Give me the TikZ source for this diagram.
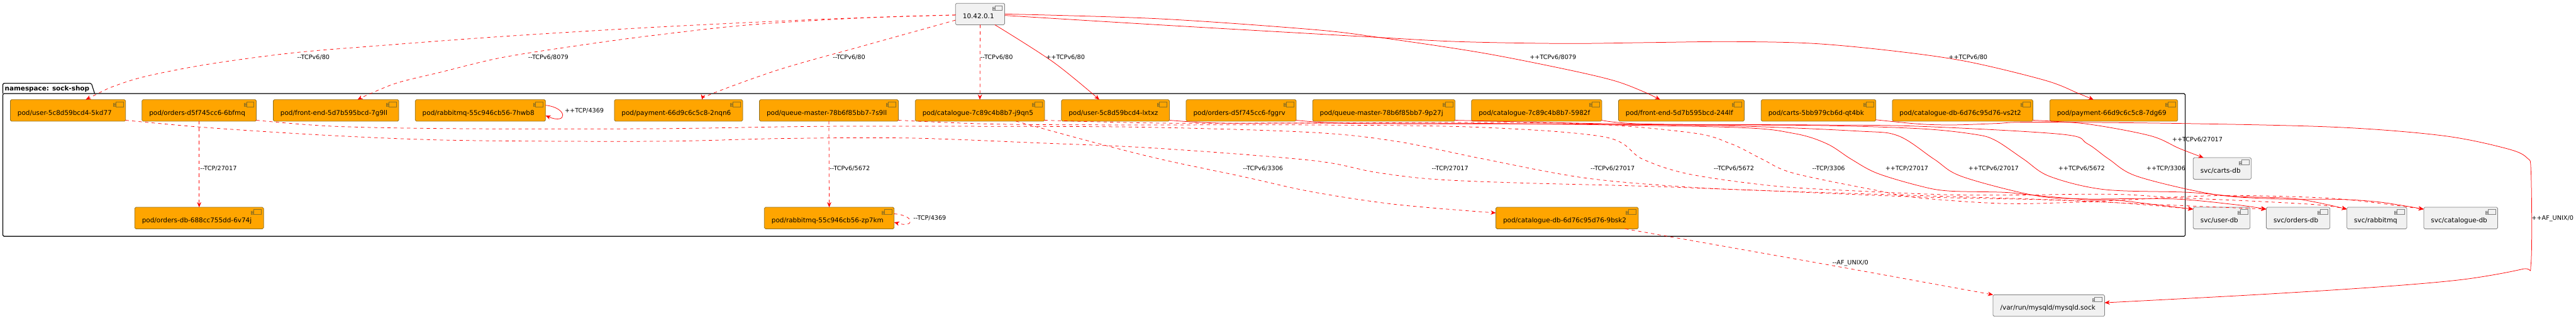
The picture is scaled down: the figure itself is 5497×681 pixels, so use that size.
\documentclass[tikz,border=0pt]{standalone}
\usepackage{fontspec}
\setmainfont{DejaVu Sans}
\usetikzlibrary{calc,arrows.meta}
\definecolor{podfill}{HTML}{FFA500}
\definecolor{podline}{HTML}{8F7020}
\definecolor{svcfill}{HTML}{F1F1F1}
\definecolor{svcline}{HTML}{808080}
\tikzset{
  boxbase/.style={draw,anchor=north west,inner sep=0pt,outer sep=0pt,rounded corners=2.5pt,line width=1pt,
    minimum height=46pt,text height=0pt,text depth=0pt,font=\fontsize{14}{16}\selectfont},
  podbox/.style={boxbase,fill=podfill,draw=podline},
  svcbox/.style={boxbase,fill=svcfill,draw=svcline},
  tipmark/.tip={Stealth[length=11pt,width=9pt,inset=3.5pt]},
  solidedge/.style={draw=red,line width=1pt,-{tipmark}},
  dashedge/.style={draw=red,line width=1pt,dash pattern=on 7pt off 7pt,-{Stealth[length=11pt,width=9pt,inset=3.5pt,sep=0pt]}},
  edgelabel/.style={anchor=base west,inner sep=0pt,font=\fontsize{13}{15}\selectfont},
  smoothed/.style={smooth,tension=0.55},
  framebox/.style={draw=black,line width=1.5pt,rounded corners=2.5pt,anchor=north west,inner sep=0pt,outer sep=0pt},
}
\newcommand{\bx}[7]{%
  \node[#1,minimum width=#5pt,minimum height=#6pt] (#2) at (#3,#4)
    {\makebox[#5pt][l]{\hspace{15.5pt}\raisebox{-9.6pt}{#7}}};
  \draw[line width=1pt,draw=#1line] ($(#2.north east)+(-21,5)$) rectangle +(16,10);
  \draw[line width=1pt,draw=#1line,fill=#1fill] ($(#2.north east)+(-26,8)$) rectangle +(5,2.5);
  \draw[line width=1pt,draw=#1line,fill=#1fill] ($(#2.north east)+(-26,12)$) rectangle +(5,2.5);
}
\colorlet{podboxline}{podline}\colorlet{podboxfill}{podfill}
\colorlet{svcboxline}{svcline}\colorlet{svcboxfill}{svcfill}
\newcommand{\lb}[4]{\node[edgelabel] (#1) at (#2,#3+4) {#4};}
\begin{document}
\begin{tikzpicture}[x=1pt,y=-1pt]
\useasboundingbox (0,0) rectangle (5497,681);
\fill[white] (0,0) rectangle (5497,681);
% namespace frame
\node[framebox,minimum width=4657pt,minimum height=305pt] (ns) at (6,200) {};
\draw[line width=1.5pt,rounded corners=2.5pt] (ns.north west) -- (6,178) -- (195,178) -- (202,200);
\node[edgelabel,font=\fontsize{14}{16}\selectfont\bfseries] (nstitle) at (10,194) {namespace: sock-shop};
% outside source
\bx{svcbox}{ip}{2039}{7}{105}{46}{10.42.0.1}
% first row of pods
\bx{podbox}{ua}{22}{213}{246}{46}{pod/user-5c8d59bcd4-5kd77}
\bx{podbox}{oa}{303}{213}{244}{46}{pod/orders-d5f745cc6-6bfmq}
\bx{podbox}{fa}{583}{213}{268}{46}{pod/front-end-5d7b595bcd-7g9ll}
\bx{podbox}{ra}{886}{213}{278}{46}{pod/rabbitmq-55c946cb56-7hwb8}
\bx{podbox}{pa}{1311}{213}{274}{46}{pod/payment-66d9c6c5c8-2nqn6}
\bx{podbox}{qa}{1620.5}{213}{296.5}{46}{pod/queue-master-78b6f85bb7-7s9ll}
\bx{podbox}{ca}{1953}{213}{276}{46}{pod/catalogue-7c89c4b8b7-j9qn5}
\bx{podbox}{ub}{2265}{213}{230.5}{46}{pod/user-5c8d59bcd4-lxtxz}
\bx{podbox}{ob}{2531}{213}{235}{46}{pod/orders-d5f745cc6-fggrv}
\bx{podbox}{qb}{2801}{213}{304}{46}{pod/queue-master-78b6f85bb7-9p27j}
\bx{podbox}{cb}{3140}{213}{278}{46}{pod/catalogue-7c89c4b8b7-5982f}
\bx{podbox}{fb}{3453.6}{213}{268.4}{46}{pod/front-end-5d7b595bcd-244lf}
\bx{podbox}{cr}{3758}{213}{245}{46}{pod/carts-5bb979cb6d-qt4bk}
\bx{podbox}{dv}{4038}{213}{300}{46}{pod/catalogue-db-6d76c95d76-vs2t2}
\bx{podbox}{pb}{4374}{213}{273}{46}{pod/payment-66d9c6c5c8-7dg69}
% second row of pods
\bx{podbox}{od}{287.5}{443}{275}{46}{pod/orders-db-688cc755dd-6v74j}
\bx{podbox}{rz}{1631}{443}{277}{46}{pod/rabbitmq-55c946cb56-zp7km}
\bx{podbox}{db}{3192}{443}{304}{46}{pod/catalogue-db-6d76c95d76-9bsk2}
% services
\bx{svcbox}{scr}{4680}{337}{124}{46}{svc/carts-db}
\bx{svcbox}{sus}{4680}{443}{121.5}{46}{svc/user-db}
\bx{svcbox}{sor}{4836}{443}{136}{46}{svc/orders-db}
\bx{svcbox}{srb}{5008}{443}{128}{46}{svc/rabbitmq}
\bx{svcbox}{sct}{5172}{443}{158}{46}{svc/catalogue-db}
\bx{svcbox}{sock}{4253}{630}{238}{46}{/var/run/mysqld/mysqld.sock}
% from 10.42.0.1
\draw[dashedge] plot[smoothed] coordinates {($(ip.north west)+(0,25)$) (1757,41) (1400,58) (1071,78) (804,98) (625,113) (446,137) (312,163) (241,185) (205,202) ($(ua.north west)+(161,0)$)};
\draw[dashedge] plot[smoothed] coordinates {($(ip.north west)+(0,25)$) (1846,38) (1600,53) (1400,75) (1250,95) (1071,123) (937.5,155) (848,177) (786,202) ($(fa.north west)+(180,0)$)};
\draw[dashedge] plot[smoothed] coordinates {($(ip.north west)+(0,36)$) (1846,97) (1668,147) (1525,198) ($(pa.north west)+(187,0)$)};
\draw[dashedge] (ip.south) -- (ca.north);
\draw[solidedge] plot[smoothed] coordinates {($(ip.south west)+(84,0)$) (2248,133) ($(ub.north west)+(81,0)$)};
\draw[solidedge] plot[smoothed] coordinates {($(ip.north east)+(0,23)$) (2471,40) (2800,63) (2943,80) (3157,112) (3336,147) (3443,172) (3505,195) ($(fb.north west)+(89,0)$)};
\draw[solidedge] plot[smoothed] coordinates {($(ip.north east)+(0,26)$) (2471,53) (2800,72) (2943,80) (3112,89) (3336,93) (3514,91) (3693,89) (3871,93) (4050,110) (4200,132) (4365,172) (4436,200) ($(pb.north west)+(93.5,0)$)};
% self loops
\draw[solidedge] ($(ra.north east)+(0,12)$) .. controls +(48,5) and +(48,20) .. ($(ra.north east)+(0,34)$);
\draw[dashedge] ($(rz.north east)+(0,14)$) .. controls +(45,3) and +(45,13) .. ($(rz.north east)+(0,32)$);
% down the pods
\draw[dashedge] (oa.south) -- (od.north);
\draw[dashedge] (qa.south) -- (rz.north);
\draw[dashedge] plot[smoothed] coordinates {($(ca.north west)+(215,46)$) (2337,305) (2480,341) (2650,377) (2800,410) (2979,437) ($(db.north west)+(0,12)$)};
\draw[dashedge] plot[smoothed] coordinates {($(db.north west)+(276,46)$) (3907,567) ($(sock.north west)+(0,0)$)};
% dashed towards the services
\draw[dashedge] plot[smoothed] coordinates {($(ua.north east)+(0,44)$) (446,273) (714,290) (982,300) (1400,302) (1668,296) (1936,295) (2204,305) (2471,317) (2800,343) (2934,368) (3059,383) (3246,391) (3514,398) (3782,408) (4097,418) (4410,428) (4543,435) ($(sus.north west)+(0,4)$)};
\draw[dashedge] plot[smoothed] coordinates {($(oa.north east)+(0,44)$) (714,270) (982,275) (1400,275) (1757,270) (2114,270) (2450,272) (2800,283) (2979,302) (3157,338) (3380,380) (3604,400) (3782,408) (4097,421) (4365,427) (4600,437) ($(sor.north west)+(0,4)$)};
\draw[dashedge] plot[smoothed] coordinates {($(qa.north east)+(0,44)$) (2114,265) (2382,267) (2800,267) (3157,272) (3425,293) (3505,340) (3604,372) (3782,397) (3961,408) (4200,417) (4499,415) (4633,422) (4811,430) (4950,438) ($(srb.north west)+(0,4)$)};
\draw[dashedge] plot[smoothed] coordinates {($(ca.north east)+(0,44)$) (2471,263) (2800,263) (3336,263) (3604,283) (3693,307) (3760,340) (3827,370) (4005,407) (4097,423) (4276,435) (4436,432) (4543,427) (4668,420) (4793,418) (4990,425) ($(sct.north west)+(0,4)$)};
% solid towards the services
\draw[solidedge] plot[smoothed] coordinates {($(ub.north east)+(0,44)$) (2600,263) (2800,263) (3200,264) (3693,272) (3827,285) (3898,307) (3950,340) (4005,370) (4095,397) (4157,408) (4276,411) (4338,417) (4454,427) (4517,428) (4620,440) ($(sus.north west)+(0,4)$)};
\draw[solidedge] plot[smoothed] coordinates {($(ob.north east)+(0,44)$) (2900,264) (3336,265) (3693,269) (3961,280) (4050,290) (4127,340) (4186,377) (4338,417) (4440,425) (4633,425) (4767,437) ($(sor.north west)+(0,4)$)};
\draw[solidedge] plot[smoothed] coordinates {($(qb.north east)+(0,44)$) (3514,266) (3871,268) (4097,275) (4213,287) (4258,300) (4318,340) (4374,377) (4490,405) (4668,411) (4775,420) (4900,425) ($(srb.north west)+(0,4)$)};
\draw[solidedge] plot[smoothed] coordinates {($(cb.north east)+(0,44)$) (3514,265) (3871,267) (4097,270) (4400,287) (4454,307) (4500,340) (4561,377) (4722,415) (4856,425) (4990,426) (5079,432) ($(sct.north west)+(0,4)$)};
\draw[solidedge] plot[smoothed] coordinates {($(dv.north east)+(0,44)$) (4454,265) (4588,290) (4650,317) ($(scr.north west)+(22,0)$)};
\draw[solidedge] plot[smoothed] coordinates {($(cr.north east)+(0,43)$) (4095,265) (4168,267) (4258,264) (4338,261) (4663,264) (4990,272) (5213,290) (5347,317) (5392,337) (5401,370) (5401,562) (5383,575) (5258,597) (5079,613) (4811,630) ($(sock.north east)+(0,17)$)};
% labels
\lb{la}{634}{123}{-{}-TCPv6/80}
\lb{lb}{1127}{123}{-{}-TCPv6/8079}
\lb{lc}{1777}{123}{-{}-TCPv6/80}
\lb{ld}{2092}{123}{-{}-TCPv6/80}
\lb{le}{2232}{123}{++TCPv6/80}
\lb{lf}{3264}{123}{++TCPv6/8079}
\lb{lg}{4158}{123}{++TCPv6/80}
\lb{lh}{1205}{237}{++TCP/4369}
\lb{li}{427}{360}{-{}-TCP/27017}
\lb{lj}{1770.5}{360}{-{}-TCPv6/5672}
\lb{lk}{1949}{467}{-{}-TCP/4369}
\lb{ll}{2652}{360}{-{}-TCPv6/3306}
\lb{lm}{3055}{360}{-{}-TCP/27017}
\lb{ln}{3394}{360}{-{}-TCPv6/27017}
\lb{lo}{3657}{360}{-{}-TCPv6/5672}
\lb{lp}{3867}{360}{-{}-TCP/3306}
\lb{lq}{4023}{360}{++TCP/27017}
\lb{lr}{4200}{360}{++TCPv6/27017}
\lb{ls}{4392}{360}{++TCPv6/5672}
\lb{lt}{4580}{360}{++TCP/3306}
\lb{lu}{4635}{298}{++TCPv6/27017}
\lb{lv}{5402}{467}{++AF\_UNIX/0}
\lb{lw}{3910}{561}{-{}-AF\_UNIX/0}
\end{tikzpicture}
\end{document}
